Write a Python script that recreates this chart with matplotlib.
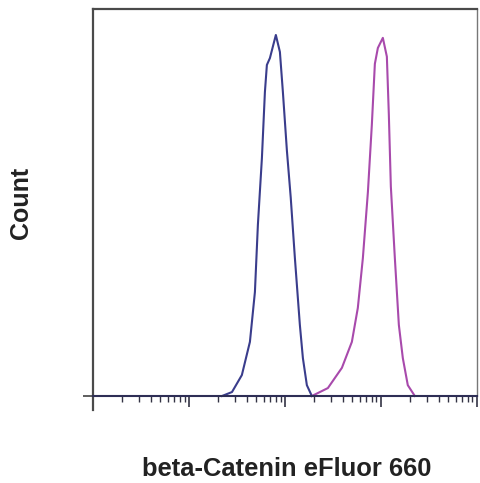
import matplotlib
matplotlib.use("Agg")
import matplotlib.pyplot as plt
from matplotlib.ticker import LogLocator, NullFormatter

# isotype / unstained control (blue) and stained sample (magenta)
control_x = [221, 281, 356, 432, 487, 523, 576, 619, 649, 698, 805, 887, 953,
             1049, 1150, 1271, 1432, 1540, 1694, 1910]
control_count = [0, 1.1, 5.8, 15.0, 28.8, 47.4, 65.9, 84.2, 91.7, 93.6, 100,
                 95.3, 84.2, 68.0, 55.0, 38.2, 19.7, 10.5, 3.0, 0]

stained_x = [1910, 2805, 3926, 4989, 5754, 6494, 7328, 8054, 8660, 9306, 10490,
             11550, 12110, 12710, 13990, 15400, 16940, 19090, 22590]
stained_count = [0, 2.2, 7.8, 15.0, 24.4, 38.2, 56.5, 75.1, 92.0, 96.4, 99.2,
                 94.0, 78.0, 58.0, 38.2, 19.7, 10.5, 3.0, 0]

x_label = "beta-Catenin eFluor 660"
y_label = "Count"

plt.rcParams["font.family"] = ["Liberation Sans", "DejaVu Sans"]

fig = plt.figure(figsize=(4.81, 4.83), dpi=100)
ax = fig.add_axes([0.1933, 0.1511, 0.798, 0.8303])

ax.plot(control_x, control_count, color="#3a3d8c", lw=1.5,
        solid_joinstyle="round")
ax.plot(stained_x, stained_count, color="#a84aac", lw=1.5,
        solid_joinstyle="round")

ax.set_xscale("log")
ax.set_xlim(10, 1e5)
ax.set_ylim(-3.88, 107.2)

for side in ["top", "left", "right", "bottom"]:
    ax.spines[side].set_color("#4a4a4a")
    ax.spines[side].set_linewidth(1.6)
ax.spines["bottom"].set_position(("data", 0))
ax.spines["bottom"].set_color("#2e2e55")
ax.spines["bottom"].set_linewidth(1.5)
ax.spines["right"].set_bounds(0, 107.2)
ax.spines["right"].set_linewidth(1.0)
ax.spines["right"].set_color("#777777")

ax.xaxis.set_major_locator(LogLocator(base=10, numticks=10))
ax.xaxis.set_minor_locator(LogLocator(base=10, subs=range(2, 10), numticks=10))
ax.xaxis.set_major_formatter(NullFormatter())
ax.xaxis.set_minor_formatter(NullFormatter())
ax.tick_params(axis="x", which="major", direction="out", length=8, width=1.2,
               color="#333344")
ax.tick_params(axis="x", which="minor", direction="out", length=4.5, width=1.0,
               color="#333344")

ax.set_yticks([0])
ax.set_yticklabels([])
ax.tick_params(axis="y", direction="out", length=7, width=1.1, color="#333333")

fig.text(0.044, 0.58, y_label, rotation=90, ha="center", va="center",
         fontsize=18, fontweight="bold", color="#222222")
fig.text(0.595, 0.029, x_label, ha="center", va="center",
         fontsize=18.4, fontweight="bold", color="#222222")

fig.savefig("out.png", dpi=100)
